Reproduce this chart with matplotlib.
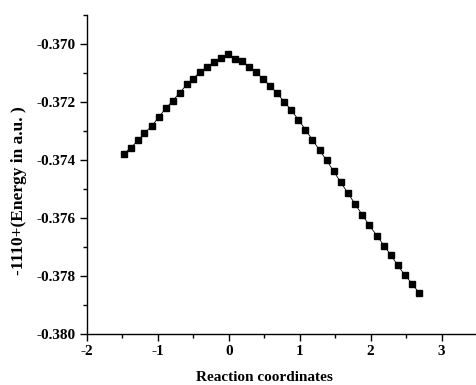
import numpy as np
import matplotlib.pyplot as plt
from matplotlib.ticker import MultipleLocator, FormatStrFormatter

plt.rcParams['font.family'] = ['Liberation Serif', 'DejaVu Serif']
plt.rcParams['font.weight'] = 'bold'
plt.rcParams['axes.unicode_minus'] = False

# reaction coordinate
rc = [-1.48, -1.38, -1.28, -1.19, -1.08, -0.99, -0.89, -0.79, -0.69, -0.59,
      -0.50, -0.41, -0.31, -0.21, -0.11, -0.01,
      0.09, 0.18, 0.28, 0.38, 0.48, 0.58, 0.68, 0.78, 0.88, 0.98,
      1.08, 1.18, 1.28, 1.38, 1.48, 1.58, 1.68, 1.78, 1.88, 1.98,
      2.09, 2.19, 2.29, 2.38, 2.48, 2.59, 2.68]

# energy, -1110 + E (a.u.)
energy = [-0.37378, -0.37357, -0.37332, -0.37307, -0.37281, -0.37252,
          -0.37222, -0.37195, -0.37167, -0.37139, -0.37119, -0.37097,
          -0.37079, -0.37062, -0.37048, -0.37035,
          -0.37050, -0.37060, -0.37079, -0.37095, -0.37120, -0.37143,
          -0.37170, -0.37198, -0.37228, -0.37260, -0.37295, -0.37330,
          -0.37366, -0.37401, -0.37439, -0.37477, -0.37514, -0.37551,
          -0.37588, -0.37624, -0.37661, -0.37695, -0.37728, -0.37762,
          -0.37795, -0.37827, -0.37857]

fig = plt.figure(figsize=(4.77, 3.85), dpi=100)
ax = fig.add_axes([0.1824, 0.1317, 0.8176, 0.8293])

ax.plot(rc, energy, color='black', lw=0.6, marker='s', ms=4.8,
        markerfacecolor='black', markeredgecolor='black')

ax.set_xlim(-2, 3.5)
ax.set_ylim(-0.380, -0.369)
ax.xaxis.set_major_locator(MultipleLocator(1))
ax.xaxis.set_minor_locator(MultipleLocator(0.5))
ax.yaxis.set_major_locator(MultipleLocator(0.002))
ax.yaxis.set_minor_locator(MultipleLocator(0.001))
ax.yaxis.set_major_formatter(FormatStrFormatter('%.3f'))

ax.spines['top'].set_visible(False)
ax.spines['right'].set_visible(False)
ax.spines['left'].set_linewidth(1.0)
ax.spines['bottom'].set_linewidth(1.0)
ax.tick_params(which='major', direction='out', length=5, width=1.0,
               labelsize=11, pad=3)
ax.tick_params(which='minor', direction='out', length=3, width=1.0)

ax.set_xlabel('Reaction coordinates', fontsize=11, fontweight='bold')
ax.set_ylabel('-1110+(Energy in a.u. )', fontsize=12.5, fontweight='bold')
ax.xaxis.set_label_coords(0.456, -0.115)
ax.yaxis.set_label_coords(-0.155, 0.45)

fig.savefig('out.png', dpi=100)
